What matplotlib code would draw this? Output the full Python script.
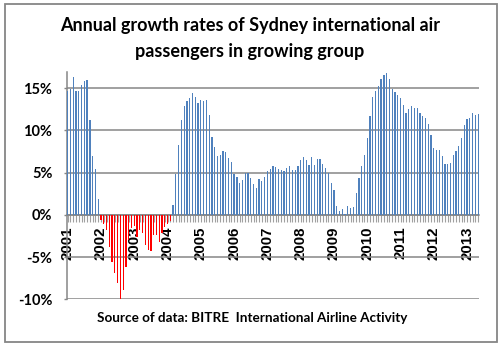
import matplotlib
matplotlib.use("Agg")
import matplotlib.pyplot as plt
from matplotlib.patches import Rectangle
import numpy as np

# monthly annual growth rates (%), Jan 2001 - May 2013
growth_2001 = [14.7, 14.9, 16.3, 14.7, 14.7, 15.4, 15.8, 16.0, 11.2, 6.9, 5.4, 1.9]
growth_2002 = [-0.6, -1.1, -1.8, -3.8, -5.6, -6.9, -8.1, -10.0, -8.9, -6.2, -3.0, -1.6]
growth_2003 = [-1.3, -2.6, -1.8, -2.2, -3.6, -4.2, -4.3, -2.4, -2.4, -3.2, -2.2, -1.5]
growth_2004 = [-1.1, -0.7, 1.2, 4.8, 8.3, 11.2, 12.9, 13.5, 13.8, 14.4, 13.9, 13.2]
growth_2005 = [13.6, 13.5, 13.6, 11.8, 9.2, 8.0, 7.0, 7.1, 7.6, 7.4, 6.7, 6.3]
growth_2006 = [4.8, 4.5, 3.8, 4.1, 5.0, 5.0, 4.3, 3.6, 3.2, 4.2, 4.0, 4.5]
growth_2007 = [5.2, 5.4, 5.75, 5.6, 5.4, 5.35, 5.15, 5.5, 5.75, 5.3, 5.3, 5.75]
growth_2008 = [6.45, 6.8, 6.45, 5.85, 6.8, 5.85, 6.65, 6.65, 6.0, 5.5, 4.9, 3.8]
growth_2009 = [2.9, 1.1, 0.5, 0.7, 0.1, 1.0, 0.8, 0.9, 2.6, 4.4, 5.8, 7.1]
growth_2010 = [9.1, 11.7, 14.0, 14.6, 15.2, 16.1, 16.5, 16.8, 16.1, 14.9, 14.5, 14.2]
growth_2011 = [13.8, 13.0, 12.1, 12.5, 12.9, 12.6, 12.6, 12.1, 11.7, 11.5, 10.8, 9.5]
growth_2012 = [7.9, 7.7, 7.7, 6.9, 6.0, 6.0, 6.1, 7.1, 7.6, 8.1, 9.1, 10.6]
growth_2013 = [11.3, 11.5, 12.1, 11.8, 11.9]

years = ["2001", "2002", "2003", "2004", "2005", "2006", "2007",
         "2008", "2009", "2010", "2011", "2012", "2013"]
y_ticks = [-10, -5, 0, 5, 10, 15]

title = "Annual growth rates of Sydney international air\npassengers in growing group"
source = "Source of data: BITRE  International Airline Activity"

BLUE = "#4F81BD"
RED = "#FF0000"
GREY = "#868686"

plt.rcParams["font.family"] = ["Lato", "DejaVu Sans"]

values = np.array(growth_2001 + growth_2002 + growth_2003 + growth_2004 + growth_2005
                  + growth_2006 + growth_2007 + growth_2008 + growth_2009 + growth_2010
                  + growth_2011 + growth_2012 + growth_2013)
months = np.arange(len(values))
colors = [BLUE if v >= 0 else RED for v in values]

fig = plt.figure(figsize=(5.03, 3.44), dpi=100)
ax = fig.add_axes([67 / 503, 1 - 299.3 / 344, 412.3 / 503, 227.3 / 344])

# spines first: moving the bottom spine resets the ticks
for side in ["top", "right"]:
    ax.spines[side].set_visible(False)
ax.spines["bottom"].set_position(("data", 0))
ax.spines["bottom"].set_color(GREY)
ax.spines["bottom"].set_linewidth(1.1)
ax.spines["left"].set_color(GREY)
ax.spines["left"].set_linewidth(1.1)

ax.bar(months, values, width=0.45, color=colors, zorder=3)

ax.set_xlim(-0.25, len(values) - 0.6)
ax.set_ylim(-10, 16.9)

ax.set_yticks(y_ticks)
ax.set_yticklabels([f"{t}%" for t in y_ticks], fontsize=10.5, fontweight="bold")
ax.grid(axis="y", color=GREY, linewidth=1.1, zorder=0)
ax.tick_params(axis="y", length=2.5, width=1, color=GREY, pad=8)

ax.set_xticks(months, minor=True)
ax.set_xticks(np.arange(0, len(values), 12))
ax.set_xticklabels(years, rotation=90, fontsize=10.8, fontweight="bold",
                   family="Liberation Sans", va="top", ha="center")
ax.tick_params(axis="x", which="both", length=5, width=0.8, color="#A0A0A0",
               direction="out", pad=3.5)

fig.text(250 / 503, 1 - 38.5 / 344, title, ha="center", va="center",
         fontsize=13, fontweight="bold", linespacing=1.6)
fig.text(252 / 503, 1 - 318.5 / 344, source, ha="center", va="center",
         fontsize=9.7, fontweight="bold")

fig.patches.append(Rectangle((5.3 / 503, 1 - 341.7 / 344), 491.4 / 503, 337.4 / 344,
                             transform=fig.transFigure, fill=False,
                             edgecolor=GREY, linewidth=1.3))

fig.savefig("out.png", dpi=100)
